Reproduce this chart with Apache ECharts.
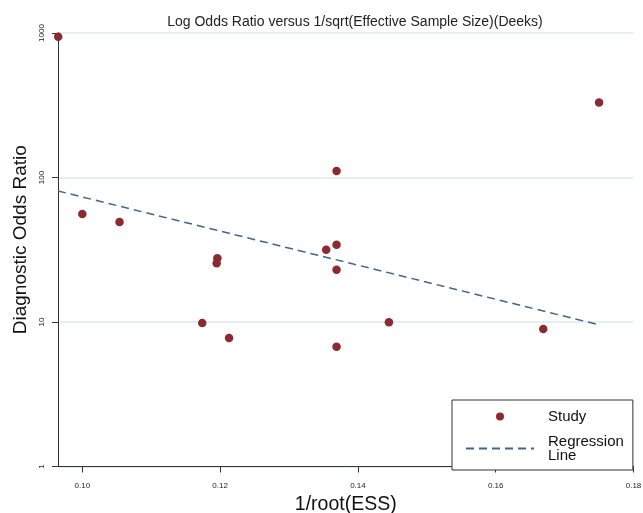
<!DOCTYPE html>
<html>
<head>
<meta charset="utf-8">
<script src="https://cdn.jsdelivr.net/npm/echarts@6/dist/echarts.min.js"></script>
<style>html,body{margin:0;padding:0;background:#fff}#c{width:643px;height:513px}</style>
</head>
<body>
<div id="c"></div>
<script>
// Study points: x = 1/root(ESS), y = diagnostic odds ratio
var essX = [0.0965, 0.1000, 0.1054, 0.1196, 0.1195, 0.1174, 0.1213, 0.1369, 0.1354, 0.1369, 0.1369, 0.1369, 0.1445, 0.1669, 0.1750];
var dor  = [943, 55.9, 49.2, 27.6, 25.5, 9.84, 7.75, 110.9, 31.6, 34.3, 23.0, 6.75, 9.95, 8.95, 331];
// Regression line endpoints
var regX = [0.09647, 0.1747];
var regY = [80.7, 9.64];
// Axis ticks
var xTicks = [0.10, 0.12, 0.14, 0.16, 0.18];
var yTicks = [1, 10, 100, 1000];

var chart = echarts.init(document.getElementById('c'), null, {renderer: 'canvas'});
var font = '"Liberation Sans", Arial, sans-serif';
chart.setOption({
  animation: false,
  backgroundColor: '#fff',
  textStyle: {fontFamily: font},
  title: {
    text: 'Log Odds Ratio versus 1/sqrt(Effective Sample Size)(Deeks)',
    left: 350, top: 10, textAlign: 'center',
    textStyle: {fontSize: 14, fontWeight: 'normal', color: '#222', fontFamily: font}
  },
  grid: {left: 58, right: 9.5, top: 33, bottom: 46.5, containLabel: false, outerBoundsMode: 'none'},
  legend: {
    orient: 'vertical',
    left: 452, top: 400,
    padding: [9, 9, 7, 13],
    itemGap: 10,
    itemWidth: 68, itemHeight: 8,
    borderColor: '#333', borderWidth: 1, borderRadius: 0,
    backgroundColor: '#fff',
    textStyle: {fontSize: 15, lineHeight: 14, color: '#111', fontFamily: font, padding: [0, 0, 0, 9]},
    formatter: function (n) { return n === 'Regression Line' ? 'Regression\nLine' : n; },
    data: [
      {name: 'Study', icon: 'circle'},
      {name: 'Regression Line', itemStyle: {color: 'rgba(0,0,0,0)', borderColor: 'rgba(0,0,0,0)', borderWidth: 0}}
    ]
  },
  xAxis: {
    type: 'value',
    min: 0.09647, max: 0.18,
    name: '1/root(ESS)',
    nameLocation: 'middle',
    nameGap: 26,
    nameTextStyle: {fontSize: 19.5, color: '#111', fontFamily: font},
    axisLine: {show: true, lineStyle: {color: '#333', width: 1}},
    axisTick: {show: true, length: 6, lineStyle: {color: '#333'}, customValues: xTicks},
    axisLabel: {
      fontSize: 8, color: '#222', margin: 15, customValues: xTicks,
      formatter: function (v) { return v.toFixed(2); }
    },
    splitLine: {show: false}
  },
  yAxis: {
    type: 'log',
    logBase: 10,
    min: 1, max: 1000,
    name: 'Diagnostic Odds Ratio',
    nameLocation: 'middle',
    nameGap: 20,
    nameRotate: 90,
    nameTextStyle: {fontSize: 19, color: '#111', fontFamily: font, padding: [0, 0, 0, 20]},
    axisLine: {show: true, lineStyle: {color: '#333', width: 1}},
    axisTick: {show: true, length: 6, lineStyle: {color: '#333'}},
    axisLabel: {
      fontSize: 8, color: '#222', rotate: 90, margin: 12,
      formatter: function (v) { return String(Math.round(v)); }
    },
    splitLine: {show: true, lineStyle: {color: '#dde8ee', width: 1.5}}
  },
  series: [
    {
      name: 'Study',
      type: 'scatter',
      symbol: 'circle',
      symbolSize: 8.5,
      itemStyle: {color: '#8c2a2f', opacity: 1},
      data: essX.map(function (x, i) { return [x, dor[i]]; }),
      z: 3
    },
    {
      name: 'Regression Line',
      type: 'line',
      symbol: 'none',
      lineStyle: {color: '#41658f', width: 1.5, type: [8, 5]},
      itemStyle: {color: '#41658f'},
      data: regX.map(function (x, i) { return [x, regY[i]]; }),
      z: 2
    }
  ]
});
</script>
</body>
</html>
